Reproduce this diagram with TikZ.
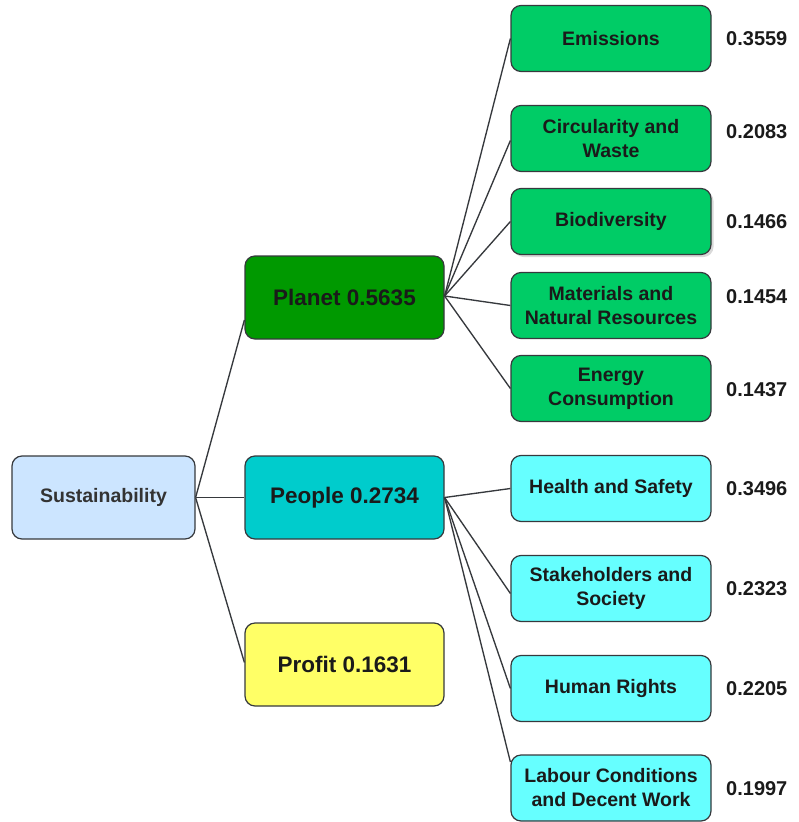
\documentclass[tikz,border=0pt]{standalone}
\usepackage{fontspec}
\setmainfont{Liberation Sans}
\usetikzlibrary{shadows}
\definecolor{edgegray}{HTML}{36393D}
\definecolor{sustfill}{HTML}{CCE5FF}
\definecolor{planetfill}{HTML}{009900}
\definecolor{peoplefill}{HTML}{00CCCC}
\definecolor{profitfill}{HTML}{FFFF66}
\definecolor{greenleaf}{HTML}{00CC66}
\definecolor{cyanleaf}{HTML}{66FFFF}
\definecolor{ink}{HTML}{1A1A1A}
\begin{document}
\begin{tikzpicture}[x=1pt,y=-1pt,
  box/.style={draw=edgegray, line width=1.2pt, rounded corners=10pt,
    align=center, inner sep=0pt, text=ink, font=\bfseries\fontsize{19.5}{24}\selectfont},
  rootbox/.style={box, fill=sustfill, minimum width=183pt, minimum height=83pt, text=black!80},
  midbox/.style={box, minimum width=199pt, minimum height=83pt,
    font=\bfseries\fontsize{22.5}{27}\selectfont},
  leafbox/.style={box, minimum width=200pt, minimum height=66pt},
  gleaf/.style={leafbox, fill=greenleaf},
  cleaf/.style={leafbox, fill=cyanleaf},
  weight/.style={anchor=west, inner sep=0pt, text=ink, font=\bfseries\fontsize{20}{24}\selectfont},
  link/.style={draw=edgegray, line width=1.35pt}]
\useasboundingbox (0,0) rectangle (798,822);

% root and the three pillars
\node[rootbox] (sust) at (103.5,497.5) {Sustainability};
\node[midbox, fill=planetfill] (planet) at (344.5,297.5) {Planet 0.5635};
\node[midbox, fill=peoplefill] (people) at (344.5,497.5) {People 0.2734};
\node[midbox, fill=profitfill] (profit) at (344.5,664.5) {Profit 0.1631};

% planet criteria
\node[gleaf] (emis) at (611,38.5) {Emissions};
\node[gleaf] (circ) at (611,138.5) {Circularity and\\Waste};
\node[gleaf, drop shadow={shadow xshift=2.5pt, shadow yshift=-2.5pt, opacity=0.3}] (bio) at (611,221.5) {Biodiversity};
\node[gleaf] (mat) at (611,305.5) {Materials and\\Natural Resources};
\node[gleaf] (ener) at (611,388.5) {Energy\\Consumption};

% people criteria
\node[cleaf] (hs) at (611,488.5) {Health and Safety};
\node[cleaf] (stake) at (611,588.5) {Stakeholders and\\Society};
\node[cleaf] (hr) at (611,688.5) {Human Rights};
\node[cleaf] (lab) at (611,788) {Labour Conditions\\and Decent Work};

% criterion weights
\node[weight] (wemis) at (726,39) {0.3559};
\node[weight] (wcirc) at (726,132) {0.2083};
\node[weight] (wbio) at (726,222) {0.1466};
\node[weight] (wmat) at (726,297) {0.1454};
\node[weight] (wener) at (726,390) {0.1437};
\node[weight] (whs) at (726,489) {0.3496};
\node[weight] (wstake) at (726,589) {0.2323};
\node[weight] (whr) at (726,689) {0.2205};
\node[weight] (wlab) at (726,789) {0.1997};

% connectors
\draw[link] (sust.east) -- ([yshift=-22.5pt]planet.west);
\draw[link] (sust.east) -- (people.west);
\draw[link] (sust.east) -- ([yshift=2pt]profit.west);

\draw[link] ([yshift=1.5pt]planet.east) -- (emis.west);
\draw[link] ([yshift=1.5pt]planet.east) -- ([yshift=-2pt]circ.west);
\draw[link] ([yshift=1.5pt]planet.east) -- (bio.west);
\draw[link] ([yshift=1.5pt]planet.east) -- (mat.west);
\draw[link] ([yshift=1.5pt]planet.east) -- (ener.west);

\draw[link] (people.east) -- (hs.west);
\draw[link] (people.east) -- ([yshift=-5pt]stake.west);
\draw[link] (people.east) -- (hr.west);
\draw[link] (people.east) -- ([yshift=26pt]lab.west);
\end{tikzpicture}
\end{document}
